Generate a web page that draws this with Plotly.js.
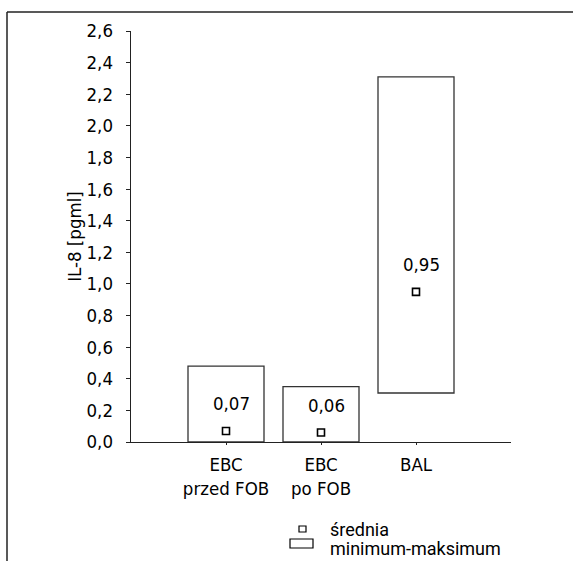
<!DOCTYPE html>
<html><head><meta charset="utf-8">
<script src="https://cdn.plot.ly/plotly-3.0.1.min.js"></script>
<style>html,body{margin:0;padding:0;background:#fff}</style>
</head><body><div id="chart" style="width:573px;height:561px"></div>
<script>
// ---- data ----
const categories = ['EBC<br>przed FOB', 'EBC<br>po FOB', 'BAL'];
const minimums = [0.0, 0.0, 0.31];
const maximums = [0.48, 0.35, 2.31];
const means = [0.07, 0.06, 0.95];
const meanLabels = ['0,07', '0,06', '0,95'];
const yTickVals = [0.0, 0.2, 0.4, 0.6, 0.8, 1.0, 1.2, 1.4, 1.6, 1.8, 2.0, 2.2, 2.4, 2.6];
const yTickText = ['0,0', '0,2', '0,4', '0,6', '0,8', '1,0', '1,2', '1,4', '1,6', '1,8', '2,0', '2,2', '2,4', '2,6'];
const legendLabels = ['średnia', 'minimum-maksimum'];
const yAxisTitle = 'IL-8 [pgml]';

// ---- geometry helpers (plot area in px) ----
const W = 573, H = 561;
const L = 131, R = 511, T = 31, B = 442;
const px2x = X => (X - L) / (R - L);
const px2y = Y => (B - Y) / (B - T);

const FONT = 'Liberation Sans Narrow, DejaVu Sans Condensed, Arial Narrow, sans-serif';
const FS = 18.5;
const INK = '#000000';
const idx = categories.map((_, i) => i);

const boxTrace = {
  type: 'bar', x: categories, base: minimums,
  y: maximums.map((m, i) => m - minimums[i]),
  width: 0.8,
  marker: {color: '#ffffff', line: {color: '#333333', width: 1.3}},
  hoverinfo: 'skip', showlegend: false
};
const meanTrace = {
  type: 'scatter', mode: 'markers', x: categories, y: means,
  marker: {symbol: 'square-open', size: 7, color: INK, line: {width: 1.6, color: INK}},
  showlegend: false, hoverinfo: 'skip', cliponaxis: false
};

const annotations = means.map((m, i) => ({
  x: i, y: m, xref: 'x', yref: 'y', text: meanLabels[i], showarrow: false,
  xshift: 5, yshift: 27, xanchor: 'center', yanchor: 'middle',
  font: {family: FONT, size: FS, color: INK}
}));
// manual legend
const legTextX = 328;
annotations.push({
  x: px2x(legTextX), y: px2y(529), xref: 'paper', yref: 'paper', text: legendLabels[0],
  showarrow: false, xanchor: 'left', yanchor: 'middle',
  font: {family: 'Roboto, sans-serif', size: 18, color: INK}
});
annotations.push({
  x: px2x(legTextX), y: px2y(548), xref: 'paper', yref: 'paper', text: legendLabels[1],
  showarrow: false, xanchor: 'left', yanchor: 'middle',
  font: {family: 'Roboto, sans-serif', size: 18, color: INK}
});

const shapes = [
  // outer frame (top and left edges visible)
  {type: 'line', xref: 'paper', yref: 'paper', x0: px2x(7), y0: px2y(12), x1: px2x(580), y1: px2y(12), line: {color: '#222', width: 1.5}},
  {type: 'line', xref: 'paper', yref: 'paper', x0: px2x(7), y0: px2y(12), x1: px2x(7), y1: px2y(570), line: {color: '#222', width: 1.5}},
  // legend symbols
  {type: 'rect', xref: 'paper', yref: 'paper', x0: px2x(299), y0: px2y(532), x1: px2x(306), y1: px2y(526), line: {color: INK, width: 1.2}, fillcolor: 'rgba(0,0,0,0)'},
  {type: 'rect', xref: 'paper', yref: 'paper', x0: px2x(290), y0: px2y(548), x1: px2x(313), y1: px2y(539), line: {color: INK, width: 1.2}, fillcolor: 'rgba(0,0,0,0)'}
];

const layout = {
  width: W, height: H,
  margin: {l: L, r: W - R, t: T, b: H - B, pad: 0},
  paper_bgcolor: '#ffffff', plot_bgcolor: '#ffffff',
  separators: ', ',
  showlegend: false,
  font: {family: FONT, size: FS, color: INK},
  xaxis: {
    type: 'category', range: [-1, 3], showgrid: false, zeroline: false,
    showline: true, linecolor: '#222', linewidth: 1.3,
    ticks: 'outside', ticklen: 2, tickcolor: '#222',
    tickfont: {family: FONT, size: FS, color: INK}, ticklabelstandoff: 3
  },
  yaxis: {
    range: [0, 2.6], tickmode: 'array', tickvals: yTickVals, ticktext: yTickText,
    showgrid: false, zeroline: false,
    showline: true, linecolor: '#222', linewidth: 1.3,
    ticks: 'outside', ticklen: 4, tickcolor: '#222',
    tickfont: {family: FONT, size: FS, color: INK}, ticklabelstandoff: 9,
    title: {text: yAxisTitle, font: {family: FONT, size: FS, color: INK}, standoff: 0}
  },
  xaxis2: {
    overlaying: 'x', side: 'top', anchor: 'y', range: [-1, 3],
    tickmode: 'array', tickvals: idx, ticks: 'inside', ticklen: 4, tickcolor: '#222',
    showticklabels: false, showline: true, linecolor: '#222', linewidth: 1.3,
    showgrid: false, zeroline: false
  },
  yaxis2: {
    overlaying: 'y', side: 'right', anchor: 'x', range: [0, 2.6],
    tickmode: 'array', tickvals: yTickVals, ticks: 'inside', ticklen: 4, tickcolor: '#222',
    showticklabels: false, showline: true, linecolor: '#222', linewidth: 1.3,
    showgrid: false, zeroline: false
  },
  annotations: annotations,
  shapes: shapes
};

Plotly.newPlot('chart', [boxTrace, meanTrace], layout, {staticPlot: true, displayModeBar: false});
</script>
</body></html>
